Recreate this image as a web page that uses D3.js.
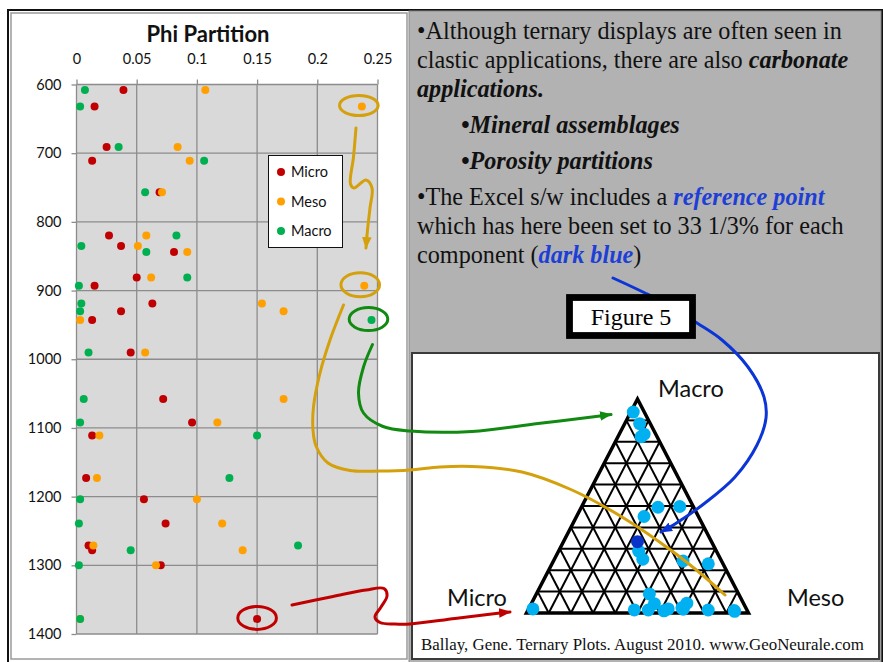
<!DOCTYPE html>
<html>
<head>
<meta charset="utf-8">
<script src="https://cdn.jsdelivr.net/npm/d3@7"></script>
<style>
  body { margin: 0; background: #fff; }
  svg { display: block; }
</style>
</head>
<body>
<svg id="slide" width="883" height="662"></svg>
<script>
// Porosity partition (Micro / Meso / Macro) by depth
const depths = [608, 632, 691, 711, 757, 820, 835, 844, 881, 893, 919, 930, 943, 990, 1058, 1092, 1111, 1173, 1204, 1239, 1271, 1278, 1300, 1378];
const micro  = [0.039, 0.015, 0.025, 0.013, 0.069, 0.027, 0.037, 0.081, 0.050, 0.015, 0.063, 0.037, 0.013, 0.045, 0.072, 0.096, 0.013, 0.008, 0.056, 0.074, 0.010, 0.013, 0.070, 0.150];
const meso   = [0.107, 0.237, 0.084, 0.094, 0.071, 0.058, 0.051, 0.092, 0.062, 0.239, 0.154, 0.172, 0.003, 0.057, 0.172, 0.117, 0.019, 0.017, 0.100, 0.121, 0.014, 0.138, 0.066, 0.003];
const macro  = [0.007, 0.003, 0.035, 0.106, 0.057, 0.083, 0.004, 0.058, 0.092, 0.002, 0.004, 0.003, 0.245, 0.010, 0.006, 0.003, 0.150, 0.127, 0.003, 0.002, 0.184, 0.045, 0.002, 0.003];
const seriesNames = ["Micro", "Meso", "Macro"];
const xTicks = [0, 0.05, 0.1, 0.15, 0.2, 0.25];
const yTicks = [600, 700, 800, 900, 1000, 1100, 1200, 1300, 1400];
const referencePoint = [1 / 3, 1 / 3, 1 / 3];
const ternaryDivisions = 10;

const seriesValues = [micro, meso, macro];
const seriesColors = ["#c00000", "#ffa000", "#00b050"];
const chartFont = "Lato, 'Open Sans', sans-serif";
const serif = "'Liberation Serif', 'Times New Roman', serif";

const svg = d3.select("#slide");

// ---------- slide frame ----------
svg.append("rect").attr("x", 8).attr("y", 10).attr("width", 874).attr("height", 660)
  .attr("fill", "#fff").attr("stroke", "#111").attr("stroke-width", 2);
svg.append("rect").attr("x", 11).attr("y", 13).attr("width", 396).attr("height", 646)
  .attr("fill", "#fff").attr("stroke", "#9a9a9a").attr("stroke-width", 1.5);
svg.append("rect").attr("x", 409).attr("y", 11).attr("width", 472).attr("height", 660)
  .attr("fill", "#b2b2b2").attr("stroke", "#8a8a8a").attr("stroke-width", 1);

// ---------- depth plot ----------
const x = d3.scaleLinear().domain([0, 0.25]).range([76.5, 377.5]);
const y = d3.scaleLinear().domain([600, 1400]).range([84.5, 634]);

const plot = svg.append("g");
plot.append("rect")
  .attr("x", x(0)).attr("y", y(600))
  .attr("width", x(0.25) - x(0)).attr("height", y(1400) - y(600))
  .attr("fill", "#d9d9d9");

plot.append("g").selectAll("line").data(xTicks.slice(1)).join("line")
  .attr("x1", d => x(d)).attr("x2", d => x(d))
  .attr("y1", y(600)).attr("y2", y(1400))
  .attr("stroke", "#8c8c8c").attr("stroke-width", 1.3);
plot.append("g").selectAll("line").data(yTicks.slice(1)).join("line")
  .attr("x1", x(0)).attr("x2", x(0.25))
  .attr("y1", d => y(d)).attr("y2", d => y(d))
  .attr("stroke", "#8c8c8c").attr("stroke-width", 1.3);
plot.append("line").attr("x1", x(0)).attr("x2", x(0.25)).attr("y1", y(600)).attr("y2", y(600))
  .attr("stroke", "#8c8c8c").attr("stroke-width", 1.3);
plot.append("line").attr("x1", x(0)).attr("x2", x(0)).attr("y1", y(600)).attr("y2", y(1400))
  .attr("stroke", "#8c8c8c").attr("stroke-width", 1.3);

const topAxis = plot.append("g").attr("transform", `translate(0,${y(600)})`)
  .call(d3.axisTop(x).tickValues(xTicks).tickFormat(d3.format("~g")).tickSize(5).tickPadding(16));
const leftAxis = plot.append("g").attr("transform", `translate(${x(0)},0)`)
  .call(d3.axisLeft(y).tickValues(yTicks).tickFormat(d3.format("d")).tickSize(5).tickPadding(10));
[topAxis, leftAxis].forEach(a => {
  a.select(".domain").remove();
  a.selectAll(".tick line").attr("stroke", "#8c8c8c").attr("stroke-width", 1.3);
  a.selectAll(".tick text").attr("fill", "#111").style("font-family", chartFont).style("font-size", "14.5px");
});

// points: one group per series, drawn in series order
seriesValues.forEach((vals, s) => {
  plot.append("g").selectAll("circle").data(vals.map((v, i) => ({ v, d: depths[i] }))).join("circle")
    .attr("cx", p => x(p.v)).attr("cy", p => y(p.d)).attr("r", 4)
    .attr("fill", seriesColors[s]);
});

// title
svg.append("text").attr("x", 208).attr("y", 42).attr("text-anchor", "middle")
  .style("font-family", chartFont).style("font-size", "22px").style("font-weight", "bold")
  .attr("fill", "#111").text("Phi Partition");

// legend
const legend = svg.append("g");
legend.append("rect").attr("x", 268.5).attr("y", 155.5).attr("width", 74).attr("height", 92)
  .attr("fill", "#fff").attr("stroke", "#111").attr("stroke-width", 1);
seriesNames.forEach((name, i) => {
  const ly = 172 + i * 29.5;
  legend.append("circle").attr("cx", 281).attr("cy", ly).attr("r", 4).attr("fill", seriesColors[i]);
  legend.append("text").attr("x", 291).attr("y", ly + 5)
    .style("font-family", chartFont).style("font-size", "14.5px").attr("fill", "#111").text(name);
});

// ---------- explanatory text ----------
const textLines = [
  { x: 417, y: 39, parts: [["•Although ternary displays are often seen in", ""]] },
  { x: 417, y: 68, parts: [["clastic applications, there are also ", ""], ["carbonate", "bi"]] },
  { x: 417, y: 97, parts: [["applications.", "bi"]] },
  { x: 461, y: 133, parts: [["•Mineral assemblages", "bi"]] },
  { x: 461, y: 169, parts: [["•Porosity partitions", "bi"]] },
  { x: 417, y: 204.5, parts: [["•The Excel s/w includes a ", ""], ["reference point", "blue"]] },
  { x: 417, y: 233.5, parts: [["which has here been set to 33 1/3% for each", ""]] },
  { x: 417, y: 262.5, parts: [["component (", ""], ["dark blue", "blue"], [")", ""]] }
];
const tg = svg.append("g").style("font-family", serif).style("font-size", "24.2px");
textLines.forEach(line => {
  const t = tg.append("text").attr("x", line.x).attr("y", line.y).attr("fill", "#111");
  line.parts.forEach(([s, style]) => {
    const span = t.append("tspan").text(s);
    if (style) span.style("font-weight", "bold").style("font-style", "italic");
    if (style === "blue") span.attr("fill", "#1d3fd6");
  });
});

// ---------- ternary inset ----------
svg.append("rect").attr("x", 412).attr("y", 353).attr("width", 467).attr("height", 306)
  .attr("fill", "#fff").attr("stroke", "#3a3a3a").attr("stroke-width", 2);

const tX = d3.scaleLinear().domain([0, 1]).range([526.5, 748.5]);
const tY = d3.scaleLinear().domain([0, 1]).range([613, 399]);
function proj(mi, me, ma) {
  const s = mi + me + ma;
  me /= s; ma /= s;
  return [tX(me + ma / 2), tY(ma)];
}
const tern = svg.append("g");
const gridSegs = [];
for (let k = 1; k < ternaryDivisions; k++) {
  const f = k / ternaryDivisions;
  gridSegs.push([proj(1 - f, 0, f), proj(0, 1 - f, f)]);
  gridSegs.push([proj(1 - f, f, 0), proj(0, f, 1 - f)]);
  gridSegs.push([proj(f, 1 - f, 0), proj(f, 0, 1 - f)]);
}
tern.append("g").selectAll("line").data(gridSegs).join("line")
  .attr("x1", d => d[0][0]).attr("y1", d => d[0][1])
  .attr("x2", d => d[1][0]).attr("y2", d => d[1][1])
  .attr("stroke", "#000").attr("stroke-width", 2);
tern.append("path")
  .attr("d", d3.line()([proj(1, 0, 0), proj(0, 1, 0), proj(0, 0, 1)]) + "Z")
  .attr("fill", "none").attr("stroke", "#000").attr("stroke-width", 3.5).attr("stroke-linejoin", "miter");

tern.append("g").selectAll("circle").data(depths.map((d, i) => proj(micro[i], meso[i], macro[i]))).join("circle")
  .attr("cx", p => p[0]).attr("cy", p => p[1]).attr("r", 6.5).attr("fill", "#00b0f0");
const rp = proj(...referencePoint);
tern.append("circle").attr("cx", rp[0]).attr("cy", rp[1]).attr("r", 6.5).attr("fill", "#0a34c8");

const tl = svg.append("g").style("font-family", chartFont).style("font-size", "23.5px").attr("fill", "#111");
tl.append("text").attr("x", 658).attr("y", 396.5).text("Macro");
tl.append("text").attr("x", 447).attr("y", 606).text("Micro");
tl.append("text").attr("x", 787).attr("y", 606).text("Meso");

svg.append("text").attr("x", 421).attr("y", 650)
  .style("font-family", serif).style("font-size", "16.9px").attr("fill", "#111")
  .text("Ballay, Gene. Ternary Plots. August 2010. www.GeoNeurale.com");

// ---------- hand-drawn call-outs ----------
const defs = svg.append("defs");
function arrowMarker(id, color) {
  defs.append("marker").attr("id", id)
    .attr("viewBox", "-11 -5 12 10").attr("refX", 0).attr("refY", 0)
    .attr("markerWidth", 12).attr("markerHeight", 10)
    .attr("markerUnits", "userSpaceOnUse").attr("orient", "auto")
    .append("path").attr("d", "M1,0 L-11,-4.8 L-11,4.8 Z").attr("fill", color);
}
const gold = "#d4a00c", green = "#108a10", red = "#c00000", blue = "#0b35d6";
arrowMarker("ah-gold", gold);
arrowMarker("ah-green", green);
arrowMarker("ah-red", red);
arrowMarker("ah-blue", blue);

const curve = d3.line().curve(d3.curveCatmullRom.alpha(0.5));
const notes = svg.append("g").attr("fill", "none").attr("stroke-width", 3).attr("stroke-linecap", "round");

// ellipses around selected samples
const rings = [
  { i: 1, s: 1, color: gold, dx: -3, ry: 10 },
  { i: 9, s: 1, color: gold, dx: -4, ry: 12 },
  { i: 12, s: 2, color: green, dx: -3, ry: 11.5 },
  { i: 23, s: 0, color: red, dx: 0, ry: 11.5 }
];
rings.forEach(r => {
  notes.append("ellipse")
    .attr("cx", x(seriesValues[r.s][r.i]) + r.dx).attr("cy", y(depths[r.i]) - 1)
    .attr("rx", 19.3).attr("ry", r.ry).attr("stroke", r.color);
});

const blueArrow = [[613, 278], [645, 293], [672, 307], [697, 323], [722, 340], [748, 367], [764, 397],
  [766, 418], [757, 445], [735, 477], [705, 503], [675, 524], [661, 532]];
notes.append("path").attr("d", curve(blueArrow)).attr("stroke", blue).attr("marker-end", "url(#ah-blue)");

notes.append("path").attr("d", curve([[356, 128], [353.5, 157], [350.5, 184], [354, 188], [366, 180], [372, 188],
  [370, 208], [367.5, 230], [366, 248]]))
  .attr("stroke", gold).attr("marker-end", "url(#ah-gold)");

notes.append("path").attr("d", curve([[343.5, 305], [330, 340], [320, 373], [313.5, 407], [313, 430], [316, 446],
  [328, 463], [350, 470.5], [380, 471], [410, 470], [440, 467], [472, 466.5], [522, 472], [572, 490],
  [622, 517], [672, 551], [700, 573], [725, 595]]))
  .attr("stroke", gold);

notes.append("path").attr("d", curve([[372.5, 344.5], [363.5, 367], [358.5, 393], [363.5, 413], [383, 426.5],
  [410, 431], [472, 431.5], [538, 423.5], [600, 416], [611, 414.5]]))
  .attr("stroke", green).attr("marker-end", "url(#ah-green)");

notes.append("path").attr("d", curve([[292, 605], [333, 596.5], [366, 590], [384, 588.5], [387, 596], [381, 607],
  [375, 617], [380, 622.5], [395, 624], [410, 624], [455, 618.5], [500, 613], [510, 612]]))
  .attr("stroke", red).attr("marker-end", "url(#ah-red)");

// figure caption box sits on top of the blue call-out
svg.append("rect").attr("x", 569.5).attr("y", 297.5).attr("width", 123).attr("height", 38)
  .attr("fill", "#fff").attr("stroke", "#000").attr("stroke-width", 6.8);
svg.append("text").attr("x", 631).attr("y", 324.5).attr("text-anchor", "middle")
  .style("font-family", serif).style("font-size", "24px").attr("fill", "#000").text("Figure 5");
</script>
</body>
</html>
